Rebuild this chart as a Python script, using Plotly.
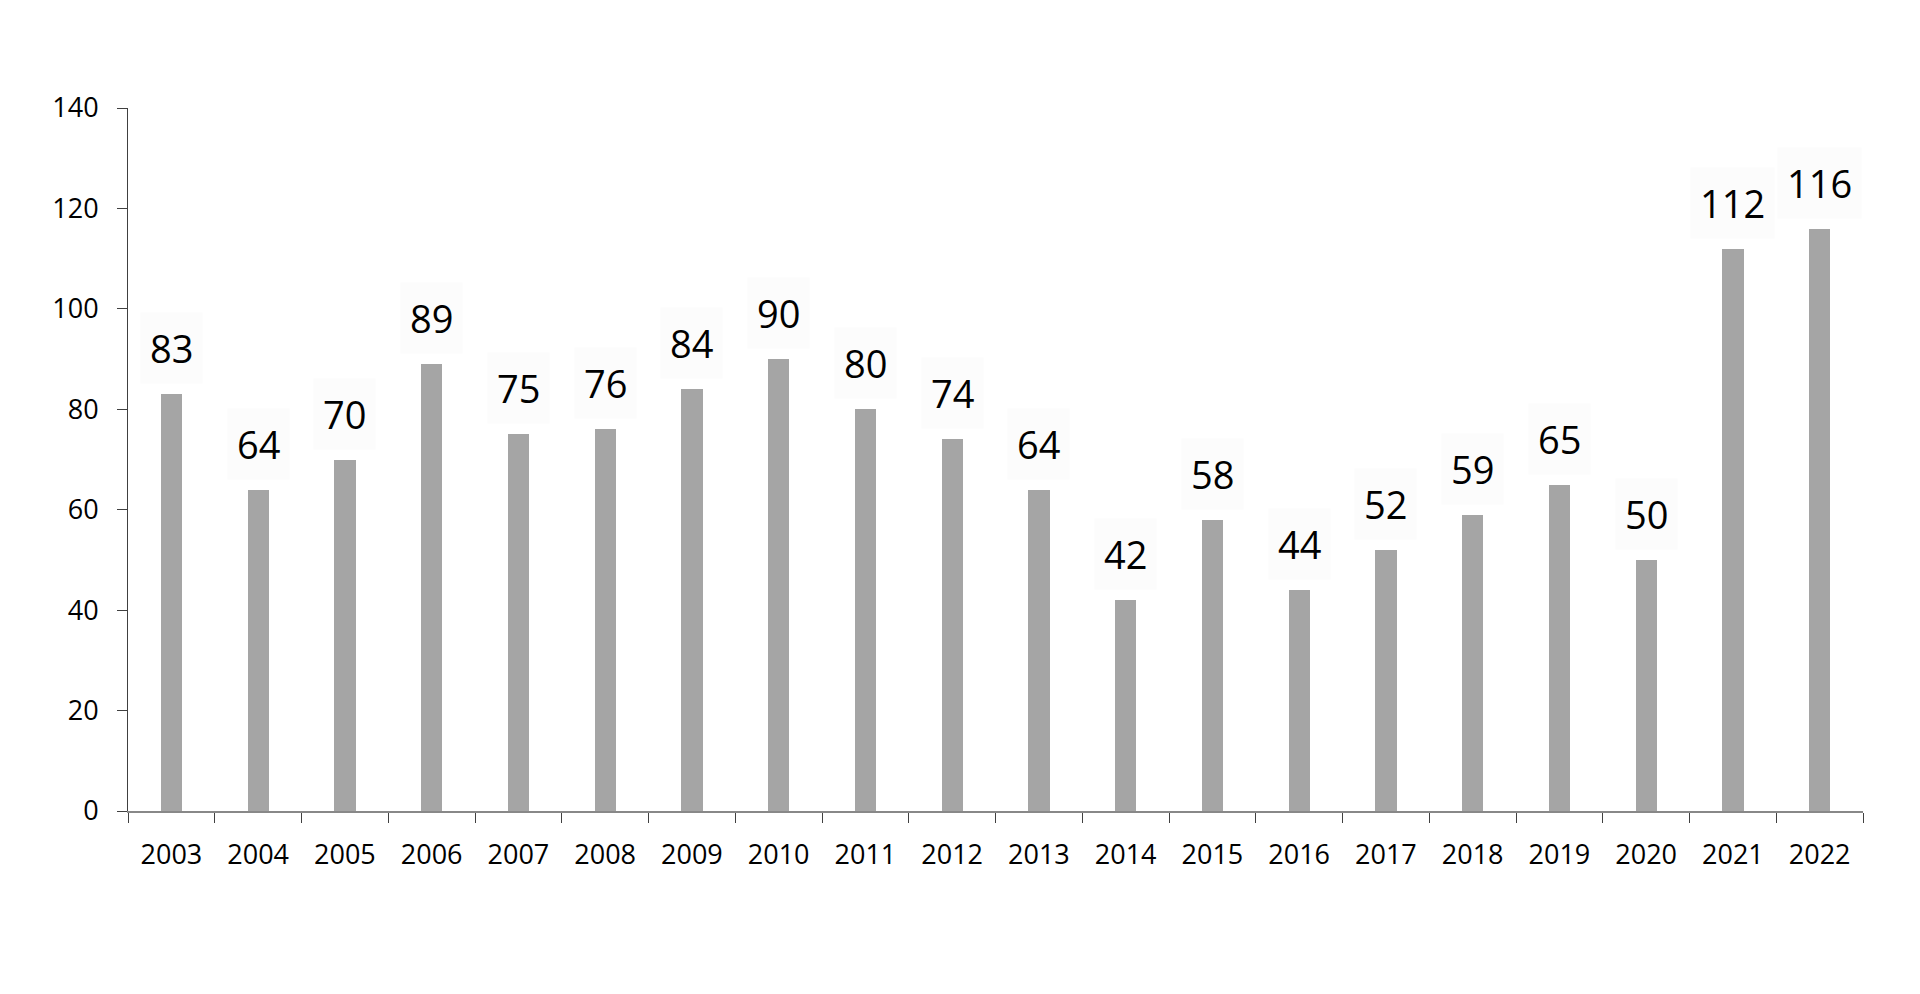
import plotly.graph_objects as go

years = ["2003", "2004", "2005", "2006", "2007", "2008", "2009", "2010", "2011", "2012",
         "2013", "2014", "2015", "2016", "2017", "2018", "2019", "2020", "2021", "2022"]
values = [83, 64, 70, 89, 75, 76, 84, 90, 80, 74, 64, 42, 58, 44, 52, 59, 65, 50, 112, 116]
y_ticks = [0, 20, 40, 60, 80, 100, 120, 140]

FONT = "Open Sans"

fig = go.Figure()
fig.add_trace(go.Bar(
    x=years, y=values,
    marker=dict(color="#a5a5a5", line=dict(width=0)),
    width=0.245,
    hoverinfo="x+y",
))

for i, v in enumerate(values):
    fig.add_annotation(
        x=i, y=v, xref="x", yref="y",
        text=str(v), showarrow=False,
        yanchor="middle", yshift=46,
        font=dict(family=FONT, size=38, color="#000000"),
        bgcolor="#fcfcfc", borderpad=9,
    )

fig.update_layout(
    width=1904, height=978,
    margin=dict(l=120, r=49, t=100, b=175, autoexpand=False),
    paper_bgcolor="white", plot_bgcolor="white",
    showlegend=False,
    bargap=0,
    font=dict(family=FONT, color="#000000"),
)

fig.update_xaxes(
    type="category",
    range=[-0.5, len(years) - 0.5],
    showline=True, linecolor="#888888", linewidth=2,
    ticks="outside", ticklen=10, tickcolor="#404040", tickwidth=1,
    tickson="boundaries",
    tickangle=0,
    tickfont=dict(family=FONT, size=27, color="#000000"),
    ticklabelstandoff=19,
    showgrid=False, zeroline=False,
)
fig.update_yaxes(
    range=[0, 140],
    tickvals=y_ticks, ticktext=[str(t) for t in y_ticks],
    showline=True, linecolor="#404040", linewidth=1,
    ticks="outside", ticklen=10, tickcolor="#404040", tickwidth=1,
    tickfont=dict(family=FONT, size=27, color="#000000"),
    ticklabelstandoff=13,
    showgrid=False, zeroline=False,
)

fig.write_html("out.html")
